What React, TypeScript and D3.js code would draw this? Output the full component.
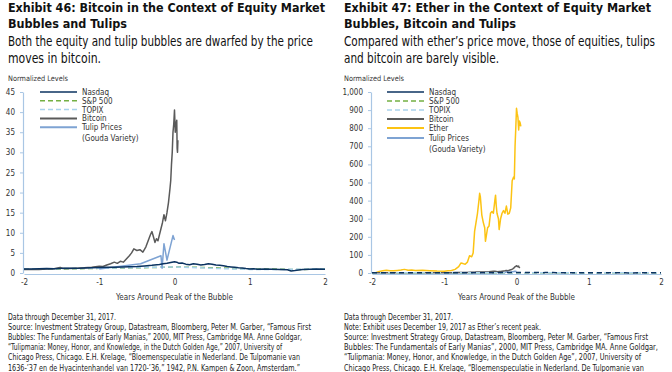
import { useEffect, useRef } from "react";
import * as d3 from "d3";

type Pt = [number, number];

// years around peak, normalized level
const nasdaq: Pt[] = [
  [-2, 1.0], [-1.9, 1.0], [-1.8, 1.05], [-1.7, 1.1], [-1.6, 1.05], [-1.5, 1.15], [-1.4, 1.2],
  [-1.3, 1.15], [-1.2, 1.25], [-1.1, 1.3], [-1.0, 1.35], [-0.9, 1.4], [-0.8, 1.45], [-0.7, 1.5],
  [-0.6, 1.55], [-0.5, 1.6], [-0.4, 1.75], [-0.3, 1.9], [-0.2, 2.1], [-0.15, 2.3], [-0.1, 2.4],
  [-0.05, 2.6], [0, 2.8], [0.03, 2.7], [0.06, 2.4], [0.1, 2.5], [0.15, 2.2], [0.2, 2.05],
  [0.25, 2.3], [0.3, 2.2], [0.35, 2.0], [0.4, 2.1], [0.45, 2.3], [0.5, 2.2], [0.55, 2.0],
  [0.6, 1.9], [0.65, 1.8], [0.7, 1.6], [0.75, 1.5], [0.8, 1.4], [0.85, 1.3], [0.9, 1.25],
  [0.95, 1.1], [1.0, 1.0], [1.05, 1.05], [1.1, 0.95], [1.2, 1.0], [1.3, 0.95], [1.4, 0.9],
  [1.5, 0.8], [1.55, 0.5], [1.6, 0.6], [1.7, 0.85], [1.8, 0.95], [1.9, 1.0], [2.0, 0.95],
];

const sp500: Pt[] = [
  [-2, 1.0], [-1.5, 1.0], [-1.0, 1.15], [-0.5, 1.3], [-0.2, 1.4], [0, 1.5], [0.3, 1.4],
  [0.6, 1.25], [1.0, 1.0], [1.3, 1.0], [1.6, 0.85], [2.0, 1.0],
];

const topix: Pt[] = [
  [-2, 1.0], [-1.5, 1.1], [-1.0, 1.2], [-0.5, 1.35], [-0.2, 1.45], [0, 1.5], [0.3, 1.3],
  [0.6, 1.1], [1.0, 0.9], [1.5, 0.9], [2.0, 1.0],
];

const bitcoin: Pt[] = [
  [-2, 0.9], [-1.9, 0.85], [-1.8, 0.9], [-1.7, 1.0], [-1.6, 1.05], [-1.52, 1.4], [-1.48, 1.1],
  [-1.4, 1.1], [-1.3, 1.2], [-1.2, 1.3], [-1.1, 1.45], [-1.0, 1.7], [-0.95, 1.6], [-0.9, 2.0],
  [-0.85, 2.3], [-0.8, 2.7], [-0.76, 2.4], [-0.72, 2.9], [-0.68, 2.7], [-0.64, 3.5], [-0.6, 4.3],
  [-0.57, 5.0], [-0.54, 6.0], [-0.5, 5.6], [-0.46, 5.8], [-0.42, 5.2], [-0.38, 6.5], [-0.35, 8.0],
  [-0.32, 9.5], [-0.3, 10.3], [-0.28, 9.0], [-0.26, 7.6], [-0.24, 8.5], [-0.22, 8.0], [-0.2, 9.5],
  [-0.18, 11.0], [-0.16, 12.5], [-0.14, 14.5], [-0.12, 13.0], [-0.1, 15.0], [-0.08, 17.5],
  [-0.06, 21.0], [-0.05, 23.0], [-0.04, 27.0], [-0.03, 30.0], [-0.02, 35.0], [-0.01, 37.0],
  [0, 40.5], [0.01, 35.0], [0.02, 37.0], [0.03, 38.0], [0.035, 31.0], [0.04, 30.0], [0.045, 33.0],
];

const tulip: Pt[] = [
  [-1.0, 1.0], [-0.45, 2.3], [-0.18, 4.3], [-0.165, 1.2], [-0.14, 7.3], [-0.1, 3.2],
  [-0.02, 9.3], [0, 8.2],
];

const ether: Pt[] = [
  [-1.95, 2], [-1.9, 8], [-1.85, 12], [-1.8, 15], [-1.75, 13], [-1.7, 12], [-1.65, 14],
  [-1.6, 16], [-1.55, 20], [-1.5, 15], [-1.45, 17], [-1.4, 14], [-1.3, 15], [-1.2, 13],
  [-1.1, 11], [-1.0, 10], [-0.95, 12], [-0.9, 14], [-0.85, 20], [-0.8, 35], [-0.77, 55],
  [-0.74, 52], [-0.71, 48], [-0.68, 60], [-0.65, 95], [-0.62, 90], [-0.6, 110], [-0.58, 230],
  [-0.56, 280], [-0.54, 330], [-0.52, 400], [-0.51, 440], [-0.5, 420], [-0.48, 320], [-0.46, 280],
  [-0.44, 250], [-0.43, 175], [-0.42, 200], [-0.4, 250], [-0.38, 260], [-0.36, 330], [-0.34, 340],
  [-0.32, 330], [-0.3, 400], [-0.29, 430], [-0.28, 370], [-0.27, 330], [-0.25, 300], [-0.24, 240],
  [-0.22, 300], [-0.2, 330], [-0.18, 345], [-0.16, 330], [-0.14, 370], [-0.12, 325], [-0.1, 330],
  [-0.08, 360], [-0.06, 510], [-0.04, 530], [-0.03, 520], [-0.02, 700], [-0.01, 800], [0, 910],
  [0.01, 880], [0.02, 860], [0.03, 790], [0.04, 840], [0.05, 830], [0.06, 810],
];

const xTicks = [-2, -1, 0, 1, 2];
const leftYTicks = [0, 5, 10, 15, 20, 25, 30, 35, 40, 45];
const rightYTicks = [0, 100, 200, 300, 400, 500, 600, 700, 800, 900, 1000];

const leftTitle = ["Exhibit 46: Bitcoin in the Context of Equity Market", "Bubbles and Tulips"];
const leftSub = ["Both the equity and tulip bubbles are dwarfed by the price", "moves in bitcoin."];
const rightTitle = ["Exhibit 47: Ether in the Context of Equity Market", "Bubbles, Bitcoin and Tulips"];
const rightSub = ["Compared with ether\u2019s price move, those of equities, tulips", "and bitcoin are barely visible."];

const leftNotes = [
  "Data through December 31, 2017.",
  "Source: Investment Strategy Group, Datastream, Bloomberg, Peter M. Garber, \u201cFamous First",
  "Bubbles: The Fundamentals of Early Manias,\u201d 2000, MIT Press, Cambridge MA. Anne Goldgar,",
  "\u201cTulipmania: Money, Honor, and Knowledge, in the Dutch Golden Age,\u201d 2007, University of",
  "Chicago Press, Chicago. E.H. Krelage, \u201cBloemenspeculatie in Nederland. De Tulpomanie van",
  "1636-\u201937 en de Hyacintenhandel van 1720-\u201936,\u201d 1942, P.N. Kampen & Zoon, Amsterdam.\u201d",
];
const rightNotes = [
  "Data through December 31, 2017.",
  "Note: Exhibit uses December 19, 2017 as Ether\u2019s recent peak.",
  "Source: Investment Strategy Group, Datastream, Bloomberg, Peter M. Garber, \u201cFamous First",
  "Bubbles: The Fundamentals of Early Manias\u201d, 2000, MIT Press, Cambridge MA.  Anne Goldgar,",
  "\u201cTulipmania: Money, Honor, and Knowledge, in the Dutch Golden Age\u201d,  2007, University of",
  "Chicago Press, Chicago. E.H. Krelage, \u201cBloemenspeculatie in Nederland. De Tulpomanie van",
];
const leftNoteW = [108, 303, 294, 274, 292, 292];
const rightNoteW = [109, 197, 304, 314, 297, 300];

const FONT = "'Liberation Sans Narrow', 'DejaVu Sans Condensed', 'Roboto Condensed', 'Liberation Sans', Arial, sans-serif";
const AXIS = "#a9c6e4";
const TXT = "#333333";

const colors: Record<string, string> = {
  Nasdaq: "#0b3360",
  "S&P 500": "#74b043",
  TOPIX: "#a9d2ec",
  Bitcoin: "#5a5a5a",
  Ether: "#fcc313",
  Tulip: "#7ea3d3",
};

interface Series { name: string; data: Pt[]; dash?: string; width: number }
interface Panel {
  left: number;
  xRange: [number, number];
  yMax: number;
  yTicks: number[];
  fmt: (d: number) => string;
  title: string[];
  titleW: number[];
  sub: string[];
  subW: number[];
  notes: string[];
  noteW: number[];
  series: Series[];
  legend: { label: string; key?: string; dash?: string; width: number; y: number }[];
  legendX: number;
}

function drawPanel(svg: d3.Selection<SVGSVGElement, unknown, null, undefined>, p: Panel) {
  const x = d3.scaleLinear().domain([-2, 2]).range(p.xRange);
  const y = d3.scaleLinear().domain([0, p.yMax]).range([273, 92]);
  const g = svg.append("g").attr("font-family", FONT);

  p.title.forEach((t, i) => {
    g.append("text").attr("x", p.left).attr("y", 11.5 + i * 16.5)
      .attr("font-size", 13).attr("font-weight", "bold").attr("fill", "#111")
      .attr("textLength", p.titleW[i]).attr("lengthAdjust", "spacingAndGlyphs").text(t);
  });
  p.sub.forEach((t, i) => {
    g.append("text").attr("x", p.left).attr("y", 45.5 + i * 17.5)
      .attr("font-size", 13.5).attr("fill", "#111")
      .attr("textLength", p.subW[i]).attr("lengthAdjust", "spacingAndGlyphs").text(t);
  });
  g.append("text").attr("x", p.left).attr("y", 80.5).attr("font-size", 7.5).attr("fill", TXT)
    .attr("textLength", 60).attr("lengthAdjust", "spacingAndGlyphs").text("Normalized Levels");

  const yAxis = g.append("g").attr("transform", `translate(${p.xRange[0] - 1},0)`)
    .call(d3.axisLeft(y).tickValues(p.yTicks).tickSize(3).tickSizeOuter(0).tickPadding(5).tickFormat((d) => p.fmt(+d)));
  yAxis.select(".domain").attr("stroke", AXIS).attr("stroke-width", 1.2);
  yAxis.selectAll(".tick line").attr("stroke", AXIS);
  yAxis.selectAll(".tick text").attr("font-size", 8).attr("fill", TXT).attr("font-family", FONT);

  const xAxis = g.append("g").attr("transform", `translate(0,${y(0) + 1})`)
    .call(d3.axisBottom(x).tickValues(xTicks).tickSize(0).tickPadding(5).tickFormat((d) => String(d)));
  xAxis.select(".domain").attr("stroke", AXIS).attr("stroke-width", 1.2);
  xAxis.selectAll(".tick text").attr("font-size", 8).attr("fill", TXT).attr("font-family", FONT);

  g.append("text").attr("x", (p.xRange[0] + p.xRange[1]) / 2).attr("y", 300)
    .attr("text-anchor", "middle").attr("font-size", 8).attr("fill", TXT)
    .text("Years Around Peak of the Bubble");

  const line = d3.line<Pt>().x((d) => x(d[0])).y((d) => y(d[1]));
  p.series.forEach((s) => {
    g.append("path").datum(s.data).attr("d", line).attr("fill", "none")
      .attr("stroke", colors[s.name]).attr("stroke-width", s.width)
      .attr("stroke-dasharray", s.dash ?? null).attr("stroke-linejoin", "round");
  });

  p.legend.forEach((l) => {
    if (l.key) {
      g.append("line").attr("x1", p.legendX).attr("x2", p.legendX + 37).attr("y1", l.y).attr("y2", l.y)
        .attr("stroke", colors[l.key]).attr("stroke-width", l.width).attr("stroke-dasharray", l.dash ?? null);
    }
    g.append("text").attr("x", p.legendX + 42).attr("y", l.y + 3).attr("font-size", 8).attr("fill", TXT).text(l.label);
  });

  p.notes.forEach((t, i) => {
    g.append("text").attr("x", p.left).attr("y", 319.5 + i * 10.2).attr("font-size", 8).attr("fill", "#222")
      .attr("textLength", p.noteW[i]).attr("lengthAdjust", "spacingAndGlyphs").text(t);
  });
}

export default function App() {
  const ref = useRef<SVGSVGElement>(null);

  useEffect(() => {
    const svg = d3.select(ref.current!);
    svg.selectAll("*").remove();

    drawPanel(svg, {
      left: 8,
      xRange: [24, 325],
      yMax: 45,
      yTicks: leftYTicks,
      fmt: (d) => String(d),
      title: leftTitle,
      titleW: [317, 119],
      sub: leftSub,
      subW: [305, 93],
      notes: leftNotes,
      noteW: leftNoteW,
      series: [
        { name: "S&P 500", data: sp500, dash: "5,3", width: 1.5 },
        { name: "TOPIX", data: topix, dash: "5,3", width: 1.5 },
        { name: "Bitcoin", data: bitcoin, width: 1.5 },
        { name: "Tulip", data: tulip, width: 1.5 },
        { name: "Nasdaq", data: nasdaq, width: 1.5 },
      ],
      legend: [
        { label: "Nasdaq", key: "Nasdaq", width: 1.5, y: 92 },
        { label: "S&P 500", key: "S&P 500", dash: "5,3", width: 1.5, y: 100.8 },
        { label: "TOPIX", key: "TOPIX", dash: "5,3", width: 1.5, y: 109.6 },
        { label: "Bitcoin", key: "Bitcoin", width: 2, y: 118.4 },
        { label: "Tulip Prices", key: "Tulip", width: 2, y: 127.2 },
        { label: "(Gouda Variety)", width: 0, y: 137.5 },
      ],
      legendX: 40,
    });

    drawPanel(svg, {
      left: 344,
      xRange: [372, 661],
      yMax: 1000,
      yTicks: rightYTicks,
      fmt: d3.format(","),
      title: rightTitle,
      titleW: [307, 172],
      sub: rightSub,
      subW: [311, 155],
      notes: rightNotes,
      noteW: rightNoteW,
      series: [
        { name: "Ether", data: ether, width: 1.5 },
        { name: "Tulip", data: tulip, width: 1.5 },
        { name: "Bitcoin", data: bitcoin, width: 1.5 },
        { name: "S&P 500", data: sp500, dash: "5,3", width: 1.5 },
        { name: "TOPIX", data: topix, dash: "5,3", width: 1.5 },
        { name: "Nasdaq", data: nasdaq, dash: "5,4", width: 1.5 },
      ],
      legend: [
        { label: "Nasdaq", key: "Nasdaq", width: 1.5, y: 92 },
        { label: "S&P 500", key: "S&P 500", dash: "5,3", width: 1.5, y: 101 },
        { label: "TOPIX", key: "TOPIX", dash: "5,3", width: 1.5, y: 110 },
        { label: "Bitcoin", key: "Bitcoin", width: 2, y: 119 },
        { label: "Ether", key: "Ether", width: 2, y: 128 },
        { label: "Tulip Prices", key: "Tulip", width: 2, y: 138 },
        { label: "(Gouda Variety)", width: 0, y: 148.5 },
      ],
      legendX: 387,
    });
  }, []);

  return (
    <svg ref={ref} width={672} height={372}
      style={{ position: "absolute", left: 0, top: 0, background: "#fff" }} />
  );
}
